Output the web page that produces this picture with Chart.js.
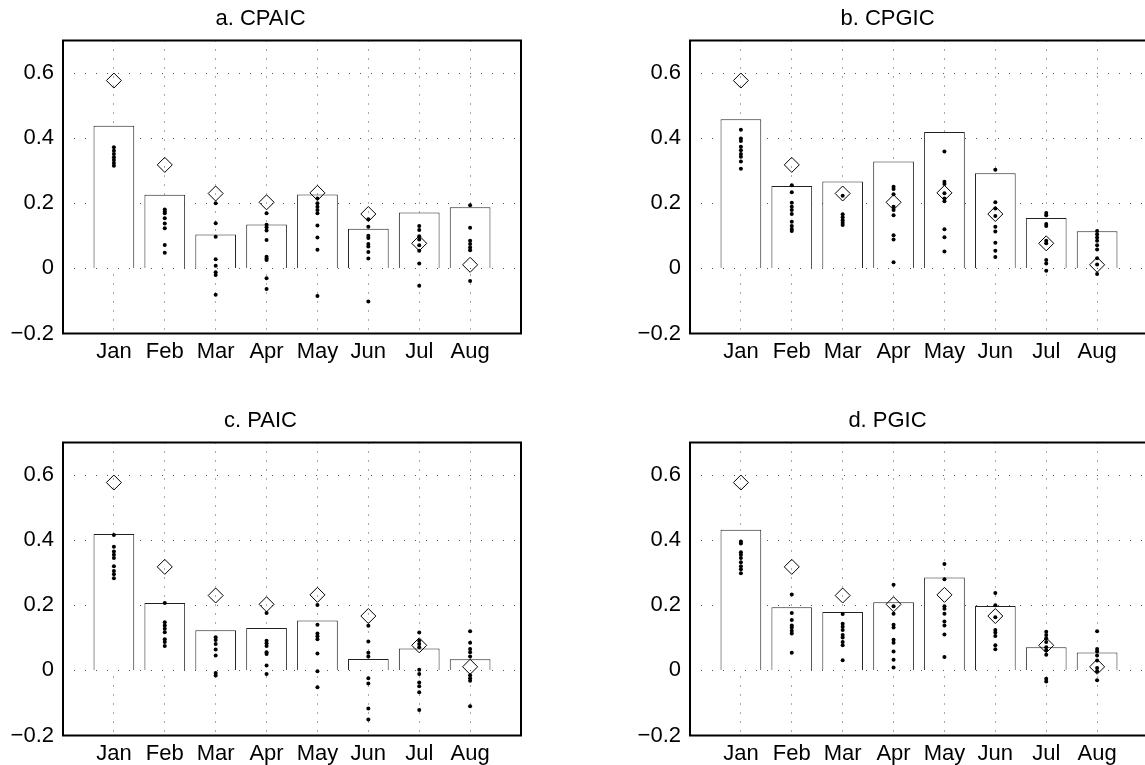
<!DOCTYPE html>
<html>
<head>
<meta charset="utf-8">
<script src="https://cdn.jsdelivr.net/npm/chart.js@4"></script>
<style>
  html, body { margin: 0; padding: 0; background: #fff; overflow: hidden; width: 1145px; height: 765px; }
  canvas.panel { position: absolute; }
</style>
</head>
<body>
<canvas id="panelA" class="panel" width="530" height="374" style="left:0px;top:0px"></canvas>
<canvas id="panelB" class="panel" width="530" height="374" style="left:627px;top:0px"></canvas>
<canvas id="panelC" class="panel" width="530" height="374" style="left:0px;top:402px"></canvas>
<canvas id="panelD" class="panel" width="530" height="374" style="left:627px;top:402px"></canvas>
<script>
const months = ['Jan', 'Feb', 'Mar', 'Apr', 'May', 'Jun', 'Jul', 'Aug'];
const yTicks = [-0.2, 0, 0.2, 0.4, 0.6];
const yTickLabels = ['\u22120.2', '0', '0.2', '0.4', '0.6'];

// observed value per month (diamonds), same in every panel
const observed = [0.577, 0.318, 0.230, 0.203, 0.232, 0.167, 0.077, 0.011];

// a. CPAIC
const cpaicBars = [0.438, 0.226, 0.104, 0.135, 0.227, 0.122, 0.172, 0.188];
const cpaicDots = [
  [0.372, 0.361, 0.351, 0.341, 0.333, 0.324, 0.315],
  [0.181, 0.175, 0.169, 0.154, 0.138, 0.123, 0.072, 0.048],
  [0.200, 0.139, 0.097, 0.028, 0.008, -0.012, -0.020, -0.081],
  [0.169, 0.134, 0.126, 0.116, 0.087, 0.036, 0.030, 0.026, -0.030, -0.063],
  [0.215, 0.200, 0.189, 0.179, 0.169, 0.132, 0.095, 0.057, -0.085],
  [0.151, 0.128, 0.100, 0.093, 0.075, 0.067, 0.050, 0.030, -0.102],
  [0.130, 0.118, 0.099, 0.089, 0.071, 0.054, 0.015, -0.053],
  [0.194, 0.125, 0.085, 0.075, 0.064, 0.056, -0.039],
];

// b. CPGIC
const cpgicBars = [0.458, 0.253, 0.267, 0.328, 0.419, 0.292, 0.155, 0.114];
const cpgicDots = [
  [0.426, 0.399, 0.391, 0.374, 0.363, 0.351, 0.343, 0.328, 0.306],
  [0.255, 0.234, 0.202, 0.189, 0.179, 0.167, 0.143, 0.130, 0.121, 0.115],
  [0.223, 0.166, 0.157, 0.148, 0.140, 0.133],
  [0.251, 0.244, 0.228, 0.189, 0.179, 0.163, 0.102, 0.089, 0.019],
  [0.359, 0.266, 0.259, 0.231, 0.215, 0.206, 0.120, 0.096, 0.052],
  [0.303, 0.203, 0.184, 0.161, 0.128, 0.113, 0.079, 0.054, 0.035],
  [0.170, 0.163, 0.136, 0.130, 0.085, 0.077, 0.026, 0.015, -0.007],
  [0.115, 0.105, 0.095, 0.085, 0.071, 0.058, 0.031, 0.012, -0.017],
];

// c. PAIC
const paicBars = [0.419, 0.207, 0.123, 0.130, 0.153, 0.035, 0.067, 0.034];
const paicDots = [
  [0.416, 0.380, 0.365, 0.355, 0.345, 0.320, 0.305, 0.295, 0.283],
  [0.207, 0.148, 0.138, 0.128, 0.117, 0.096, 0.087, 0.075],
  [0.102, 0.093, 0.081, 0.064, 0.046, -0.008, -0.016],
  [0.176, 0.091, 0.083, 0.075, 0.056, 0.050, 0.015, -0.011],
  [0.201, 0.140, 0.113, 0.105, 0.096, 0.052, -0.003, -0.052],
  [0.137, 0.089, 0.054, 0.043, -0.024, -0.040, -0.117, -0.151],
  [0.116, 0.091, 0.081, 0.071, 0.002, -0.011, -0.037, -0.049, -0.067, -0.122],
  [0.120, 0.085, 0.066, 0.056, 0.043, -0.015, -0.024, -0.032, -0.110],
];

// d. PGIC
const pgicBars = [0.432, 0.194, 0.179, 0.209, 0.285, 0.198, 0.071, 0.055];
const pgicDots = [
  [0.396, 0.390, 0.363, 0.355, 0.345, 0.332, 0.320, 0.311, 0.298],
  [0.233, 0.176, 0.155, 0.138, 0.132, 0.122, 0.113, 0.054],
  [0.173, 0.143, 0.134, 0.124, 0.109, 0.101, 0.087, 0.077, 0.031],
  [0.263, 0.197, 0.174, 0.140, 0.132, 0.094, 0.085, 0.058, 0.033, 0.009],
  [0.327, 0.280, 0.197, 0.189, 0.174, 0.150, 0.138, 0.110, 0.041],
  [0.238, 0.200, 0.163, 0.124, 0.116, 0.106, 0.077, 0.065],
  [0.119, 0.109, 0.099, 0.087, 0.071, 0.062, 0.048, -0.026, -0.034],
  [0.120, 0.066, 0.058, 0.046, 0.030, 0.007, -0.003, -0.030],
];

const FONT = "'Liberation Sans', Arial, Helvetica, sans-serif";

// box around the plot area, drawn over everything
const frame = {
  id: 'frame',
  afterDraw(chart) {
    const a = chart.chartArea;
    const ctx = chart.ctx;
    ctx.save();
    ctx.strokeStyle = '#000';
    ctx.lineWidth = 2;
    ctx.strokeRect(a.left, a.top, a.right - a.left, a.bottom - a.top);
    ctx.restore();
  },
};

function drawPanel(id, title, bars, dots) {
  const barPts = bars.map((v, i) => ({ x: i + 1, y: v }));
  const obsPts = observed.map((v, i) => ({ x: i + 1, y: v }));
  const dotPts = [];
  dots.forEach((list, i) => list.forEach((v) => dotPts.push({ x: i + 1, y: v })));

  new Chart(document.getElementById(id), {
    type: 'bar',
    data: {
      datasets: [
        {
          type: 'line',
          data: dotPts,
          showLine: false,
          pointRadius: 2,
          pointBorderWidth: 0,
          pointBackgroundColor: '#000',
          order: 1,
        },
        {
          type: 'line',
          data: obsPts,
          showLine: false,
          pointStyle: 'rectRot',
          pointRadius: 7.5,
          pointBorderWidth: 1,
          pointBorderColor: '#000',
          pointBackgroundColor: 'rgba(0,0,0,0)',
          order: 2,
        },
        {
          type: 'bar',
          data: barPts,
          backgroundColor: '#fff',
          borderColor: '#222',
          borderWidth: 1,
          barPercentage: 0.8,
          categoryPercentage: 1,
          order: 3,
        },
      ],
    },
    options: {
      responsive: false,
      animation: false,
      events: [],
      layout: { padding: { left: 0, right: 9, top: 0, bottom: 0 } },
      plugins: {
        legend: { display: false },
        tooltip: { enabled: false },
        title: {
          display: true,
          text: title,
          color: '#000',
          font: { family: FONT, size: 22, weight: 'normal', lineHeight: 1.2 },
          padding: { top: 6, bottom: 8.1 },
        },
      },
      scales: {
        x: {
          type: 'linear',
          min: 0,
          max: 9,
          offset: false,
          afterBuildTicks: (s) => { s.ticks = months.map((m, i) => ({ value: i + 1 })); },
          afterFit: (s) => { s.height = 40.5; },
          ticks: {
            callback: (v) => months[v - 1],
            color: '#000',
            font: { family: FONT, size: 22 },
            padding: 5,
            maxRotation: 0,
            autoSkip: false,
          },
          grid: { color: '#555', lineWidth: 1, drawTicks: false, offset: false },
          border: { display: false, dash: [1, 8] },
        },
        y: {
          min: -0.2,
          max: 0.7,
          afterBuildTicks: (s) => { s.ticks = yTicks.map((v) => ({ value: v })); },
          afterFit: (s) => { s.width = 63; },
          ticks: {
            callback: (v) => yTickLabels[yTicks.findIndex((t) => Math.abs(t - v) < 1e-9)],
            color: '#000',
            font: { family: FONT, size: 22 },
            padding: 9,
          },
          grid: { color: '#555', lineWidth: 1, drawTicks: false },
          border: { display: false, dash: [1, 10] },
        },
      },
    },
    plugins: [frame],
  });
}

drawPanel('panelA', 'a. CPAIC', cpaicBars, cpaicDots);
drawPanel('panelB', 'b. CPGIC', cpgicBars, cpgicDots);
drawPanel('panelC', 'c. PAIC', paicBars, paicDots);
drawPanel('panelD', 'd. PGIC', pgicBars, pgicDots);
</script>
</body>
</html>
